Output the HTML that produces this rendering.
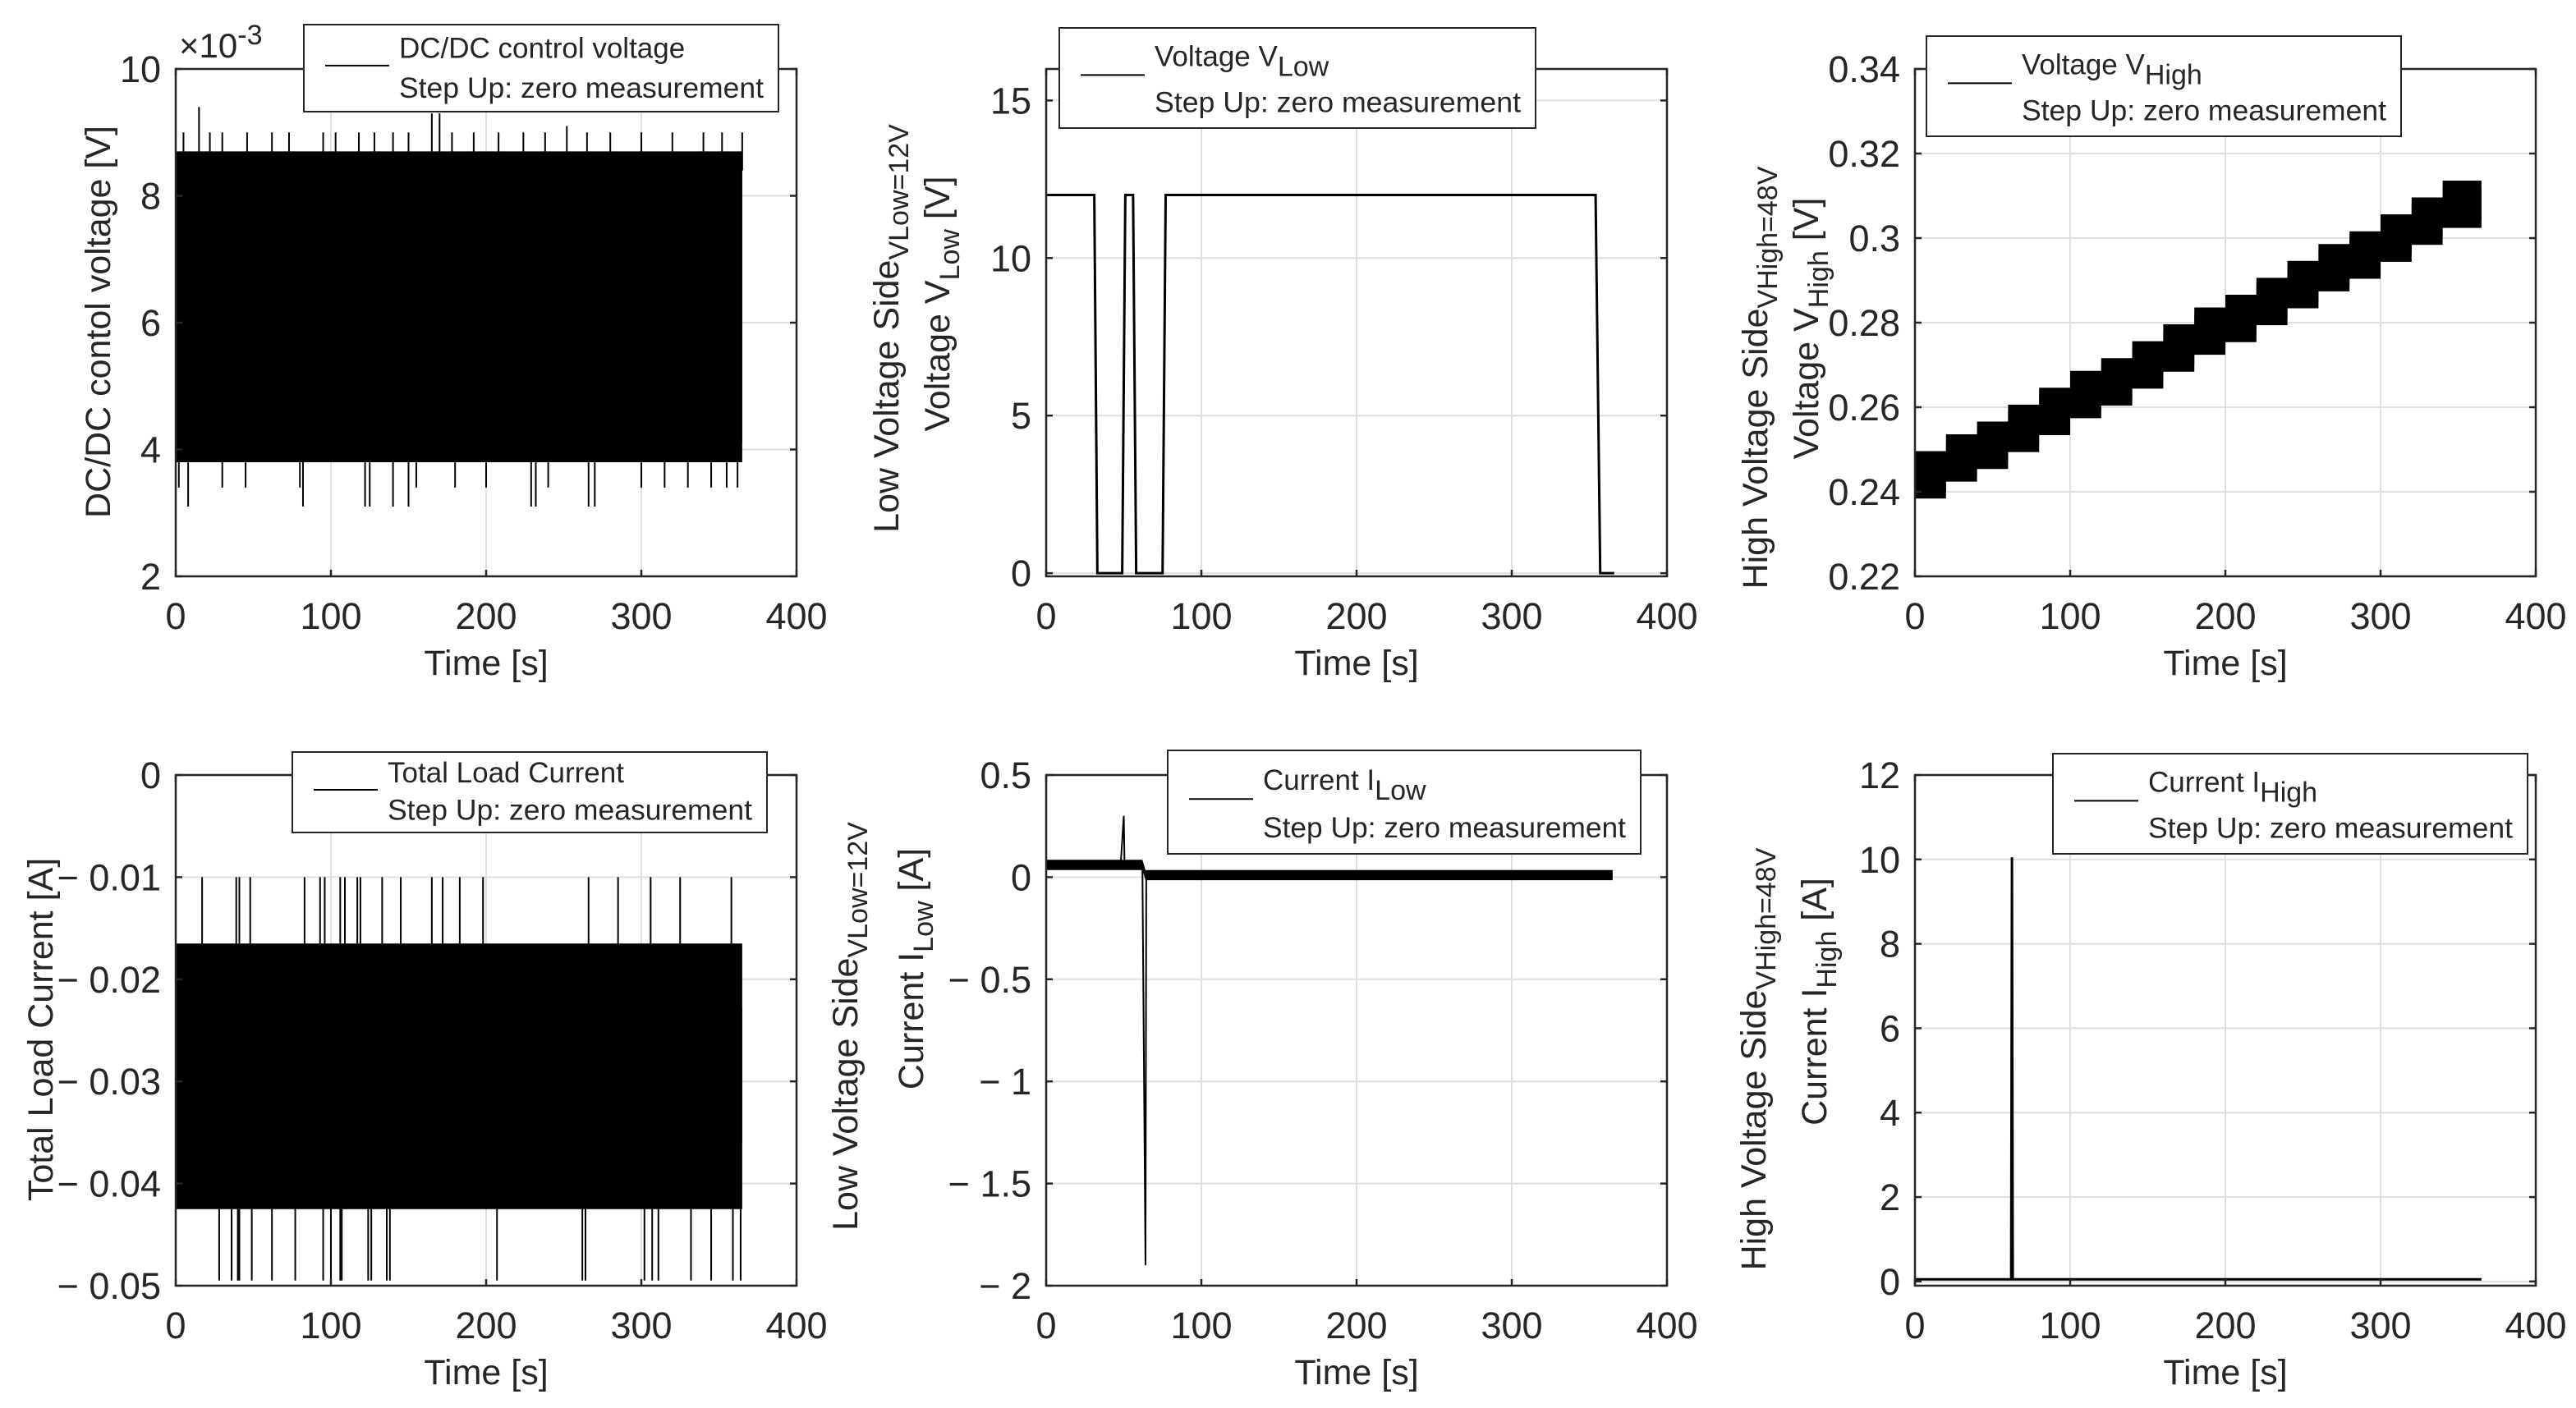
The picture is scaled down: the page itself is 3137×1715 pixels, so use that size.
<!DOCTYPE html>
<html><head><meta charset="utf-8"><style>
html,body{margin:0;padding:0;background:#fff;}
svg{display:block;}
text{font-family:"Liberation Sans",Arial,sans-serif;fill:#262626;}
</style></head><body>
<svg id="fig" width="3137" height="1715" viewBox="0 0 3137 1715" xmlns="http://www.w3.org/2000/svg"></svg>
<script>
// ---------- data ----------
const xTicks = [0,100,200,300,400];
// Panel 1: DC/DC control voltage (x1e-3 V)
const p1Times = [0,50,100,150,200,250,300,365];
const p1CoreHigh = [8.4,8.4,8.4,8.4,8.4,8.4,8.4,8.4];
const p1CoreLow = [3.8,3.8,3.8,3.8,3.8,3.8,3.8,3.8];
const p1OuterHigh = [8.7,8.7,8.7,8.7,8.7,8.7,8.7,8.7];
const p1OuterLow = [4.1,4.1,4.1,4.1,4.1,4.1,4.1,4.1];
const p1SpikeUpT = [5,15,22,30,46,62,73,95,103,118,128,140,150,165,170,178,192,208,224,238,252,265,280,300,320,340,352,365];
const p1SpikeUpV = [9.0,9.4,9.0,9.0,9.0,9.0,9.0,9.0,9.0,9.0,9.0,9.0,9.0,9.3,9.3,9.0,9.0,9.0,9.0,9.0,9.1,9.0,9.0,9.0,9.0,9.0,9.0,9.0];
const p1SpikeDnT = [2,8,30,45,80,82,122,125,140,150,155,180,200,229,232,240,266,270,300,315,330,345,355,362];
const p1SpikeDnV = [3.4,3.1,3.4,3.4,3.4,3.1,3.1,3.1,3.1,3.1,3.4,3.4,3.4,3.1,3.1,3.4,3.1,3.1,3.4,3.4,3.4,3.4,3.4,3.4];
// Panel 2: Voltage V_Low
const p2Times = [0,31,33,49,51,56,58,75,77,354,357,366];
const p2Values = [12,12,0,0,12,12,0,0,12,12,0,0];
// Panel 3: Voltage V_High (step centers)
const p3Times = [0,20,40,60,80,100,120,140,160,180,200,220,240,260,280,300,320,340,365];
const p3Center = [0.244,0.248,0.251,0.255,0.259,0.263,0.266,0.270,0.274,0.278,0.281,0.285,0.289,0.293,0.296,0.300,0.304,0.308,0.311];
const p3Half = 0.004;
const p3Outer = 0.007;
// Panel 4: Total load current
const p4Times = [0,100,200,300,365];
const p4CoreHigh = [-0.0227,-0.0227,-0.0227,-0.0227,-0.0227];
const p4CoreLow = [-0.036,-0.036,-0.036,-0.036,-0.036];
const p4OuterHigh = [-0.0165,-0.0165,-0.0165,-0.0165,-0.0165];
const p4OuterLow = [-0.0425,-0.0425,-0.0425,-0.0425,-0.0425];
const p4SpikeUpT = [17,39,41,48,83,93,96,106,109,117,119,133,145,165,172,183,198,266,285,306,325,358];
const p4SpikeDnT = [28,36,40,41,49,62,77,95,100,106,107,124,126,136,138,207,262,264,302,307,311,332,345,359,364];
// Panel 5: Current I_Low
const p5Times = [0,48,50,50.5,52,62,64,64.5,66,365];
const p5Values = [0.06,0.06,0.3,0.06,0.06,0.06,-1.9,0.0,0.01,0.01];
const p5NoiseT = [0,62,64,365];
const p5NoiseHigh = [0.085,0.085,0.035,0.035];
const p5NoiseLow = [0.035,0.035,-0.015,-0.015];
// Panel 6: Current I_High
const p6Times = [0,62,62.5,63,365];
const p6Values = [0.05,0.05,10.05,0.05,0.05];

// ---------- drawing ----------
const NS = "http://www.w3.org/2000/svg";
const svg = document.getElementById('fig');
function mk(tag, attrs, parent){
  const e = document.createElementNS(NS, tag);
  for (const k in attrs) e.setAttribute(k, attrs[k]);
  (parent||svg).appendChild(e);
  return e;
}
function panel(cfg){
  const g = mk('g', {});
  
  
  const sx = v => cfg.x0 + (v - 0) / 400 * (cfg.x1 - cfg.x0);
  const sy = v => cfg.y1 - (v - cfg.ymin) / (cfg.ymax - cfg.ymin) * (cfg.y1 - cfg.y0);
  xTicks.forEach(t => {
    const l = mk('line', {x1:sx(t),x2:sx(t),y1:cfg.y0,y2:cfg.y1,stroke:'#dfdfdf','stroke-width':2}, g);
    
    
  });
  cfg.yTicks.forEach(t => {
    const l = mk('line', {x1:cfg.x0,x2:cfg.x1,y1:sy(t),y2:sy(t),stroke:'#dfdfdf','stroke-width':2}, g);
    
    
  });
  const data = mk('g', {}, g);
  
  
  cfg.draw(data, sx, sy);
  const box = mk('rect', {x:cfg.x0,y:cfg.y0,width:cfg.x1-cfg.x0,height:cfg.y1-cfg.y0,fill:'none',stroke:'#262626','stroke-width':2.5}, g);
  
  
  xTicks.forEach(t => {
    mk('line', {x1:sx(t),x2:sx(t),y1:cfg.y1,y2:cfg.y1-8,stroke:'#262626','stroke-width':2.5}, g);
    mk('line', {x1:sx(t),x2:sx(t),y1:cfg.y0,y2:cfg.y0+8,stroke:'#262626','stroke-width':2.5}, g);
    const tx = mk('text', {x:sx(t),y:cfg.y1+64,'font-size':45,'text-anchor':'middle'}, g);
    tx.textContent = t;
    
    
  });
  cfg.yTicks.forEach((t,i) => {
    mk('line', {x1:cfg.x0,x2:cfg.x0+8,y1:sy(t),y2:sy(t),stroke:'#262626','stroke-width':2.5}, g);
    mk('line', {x1:cfg.x1,x2:cfg.x1-8,y1:sy(t),y2:sy(t),stroke:'#262626','stroke-width':2.5}, g);
    const tx = mk('text', {x:cfg.x0-18,y:sy(t)+16,'font-size':45,'text-anchor':'end'}, g);
    tx.textContent = cfg.yLabels[i];
    
    
  });
  const xl = mk('text', {x:(cfg.x0+cfg.x1)/2,y:cfg.y1+120,'font-size':43,'text-anchor':'middle'}, g);
  xl.textContent = 'Time [s]';
  
  
  return {g, sx, sy};
}
function band(parent, times, hi, lo, sx, sy, name){
  let d = 'M' + times.map((t,i)=>sx(t)+','+sy(hi[i])).join(' L');
  d += ' L' + times.slice().reverse().map((t,i)=>sx(t)+','+sy(lo[times.length-1-i])).join(' L') + ' Z';
  const p = mk('path', {d, fill:'#000'}, parent);
  
  
}
function spikes(parent, ts, vs, base, sx, sy, name){
  ts.forEach((t,i) => {
    const l = mk('line', {x1:sx(t),x2:sx(t),y1:sy(base),y2:sy(vs[i]),stroke:'#000','stroke-width':2}, parent);
    
    
  });
}
function polyline(parent, ts, vs, sx, sy, name, w){
  const p = mk('polyline', {points: ts.map((t,i)=>sx(t)+','+sy(vs[i])).join(' '), fill:'none', stroke:'#000','stroke-width':w||2}, parent);
  
  
}
function legend(x, y, w, h, main, sub){
  const g = mk('g', {});
  
  
  mk('rect', {x, y, width:w, height:h, fill:'#fff', stroke:'#262626','stroke-width':2}, g);
  mk('line', {x1:x+26,x2:x+104,y1:y+h*0.47,y2:y+h*0.47,stroke:'#000','stroke-width':2}, g);
  const t1 = mk('text', {x:x+116,y:y+h*0.38,'font-size':35,fill:'#000'}, g);
  t1.innerHTML = main;
  
  
  const t2 = mk('text', {x:x+116,y:y+h*0.84,'font-size':35,fill:'#000',textLength:w-134,lengthAdjust:'spacingAndGlyphs'}, g);
  t2.textContent = sub;
  
  
}
function ylabel(cx, cy, html, name){
  const t = mk('text', {x:cx, y:cy, 'font-size':43, 'text-anchor':'middle', transform:`rotate(-90 ${cx} ${cy})`});
  t.innerHTML = html;
  
  
}
const SUB = (s) => `<tspan dy="12" font-size="34">${s}</tspan><tspan dy="-12"> </tspan>`;
const C = [[214,970],[1274,2030],[2332,3088]];
const R = [[84,702],[944,1566]];

// Panel 1
panel({name:'dcdc-control-voltage-plot',x0:C[0][0],x1:C[0][1],y0:R[0][0],y1:R[0][1],ymin:2,ymax:10,
  yTicks:[2,4,6,8,10],yLabels:['2','4','6','8','10'],
  draw:(g,sx,sy)=>{
    spikes(g,p1SpikeUpT,p1SpikeUpV,8.4,sx,sy,'spike-up');
    spikes(g,p1SpikeDnT,p1SpikeDnV,3.8,sx,sy,'spike-down');
    band(g,p1Times,p1OuterHigh,p1OuterLow,sx,sy,'outer-band');
    band(g,p1Times,p1CoreHigh,p1CoreLow,sx,sy,'core-band');
  }});
const ex = mk('text',{x:218,y:70,'font-size':42});
ex.innerHTML = '×10<tspan dy="-16" font-size="34">-3</tspan>';


legend(370,30,578,106,'DC/DC control voltage','Step Up: zero measurement');
ylabel(134,392,'DC/DC contol voltage [V]','y-axis-title');

// Panel 2
panel({name:'voltage-vlow-plot',x0:C[1][0],x1:C[1][1],y0:R[0][0],y1:R[0][1],ymin:-0.1,ymax:16,
  yTicks:[0,5,10,15],yLabels:['0','5','10','15'],
  draw:(g,sx,sy)=>{ polyline(g,p2Times,p2Values,sx,sy,'vlow-line',3); }});
legend(1290,34,580,122,'Voltage V'+SUB('Low'),'Step Up: zero measurement');
ylabel(1094,400,'Low Voltage Side'+SUB('VLow=12V'),'y-axis-title-line1');
ylabel(1156,370,'Voltage V'+SUB('Low')+'[V]','y-axis-title-line2');

// Panel 3
panel({name:'voltage-vhigh-plot',x0:C[2][0],x1:C[2][1],y0:R[0][0],y1:R[0][1],ymin:0.22,ymax:0.34,
  yTicks:[0.22,0.24,0.26,0.28,0.30,0.32,0.34],yLabels:['0.22','0.24','0.26','0.28','0.3','0.32','0.34'],
  draw:(g,sx,sy)=>{
    const ts=[],hi=[],lo=[],ohi=[],olo=[];
    p3Times.forEach((t,i)=>{
      const tn = i<p3Times.length-1 ? p3Times[i+1] : t;
      ts.push(t,tn); hi.push(p3Center[i]+p3Half,p3Center[i]+p3Half); lo.push(p3Center[i]-p3Half,p3Center[i]-p3Half);
      ohi.push(p3Center[i]+p3Outer*0.8,p3Center[i]+p3Outer*0.8); olo.push(p3Center[i]-p3Outer*0.8,p3Center[i]-p3Outer*0.8);
    });
    band(g,ts,ohi,olo,sx,sy,'vhigh-outer-band');
    band(g,ts,hi,lo,sx,sy,'vhigh-core-band');
  }});
legend(2346,44,578,122,'Voltage V'+SUB('High'),'Step Up: zero measurement');
ylabel(2152,460,'High Voltage Side'+SUB('VHigh=48V'),'y-axis-title-line1');
ylabel(2214,400,'Voltage V'+SUB('High')+'[V]','y-axis-title-line2');

// Panel 4
panel({name:'total-load-current-plot',x0:C[0][0],x1:C[0][1],y0:R[1][0],y1:R[1][1],ymin:-0.05,ymax:0,
  yTicks:[-0.05,-0.04,-0.03,-0.02,-0.01,0],yLabels:['\u2212 0.05','\u2212 0.04','\u2212 0.03','\u2212 0.02','\u2212 0.01','0'],
  draw:(g,sx,sy)=>{
    spikes(g,p4SpikeUpT,p4SpikeUpT.map(()=>-0.01),-0.0165,sx,sy,'spike-up');
    spikes(g,p4SpikeDnT,p4SpikeDnT.map(()=>-0.0495),-0.0425,sx,sy,'spike-down');
    band(g,p4Times,p4OuterHigh,p4OuterLow,sx,sy,'outer-band');
    band(g,p4Times,p4CoreHigh,p4CoreLow,sx,sy,'core-band');
  }});
legend(356,916,578,98,'Total Load Current','Step Up: zero measurement');
ylabel(64,1254,'Total Load Current [A]','y-axis-title');

// Panel 5
panel({name:'current-ilow-plot',x0:C[1][0],x1:C[1][1],y0:R[1][0],y1:R[1][1],ymin:-2,ymax:0.5,
  yTicks:[-2,-1.5,-1,-0.5,0,0.5],yLabels:['\u2212 2','\u2212 1.5','\u2212 1','\u2212 0.5','0','0.5'],
  draw:(g,sx,sy)=>{
    band(g,p5NoiseT,p5NoiseHigh,p5NoiseLow,sx,sy,'ilow-noise-band');
    polyline(g,p5Times,p5Values,sx,sy,'ilow-line',2);
  }});
legend(1422,914,576,126,'Current I'+SUB('Low'),'Step Up: zero measurement');
ylabel(1044,1250,'Low Voltage Side'+SUB('VLow=12V'),'y-axis-title-line1');
ylabel(1124,1180,'Current I'+SUB('Low')+'[A]','y-axis-title-line2');

// Panel 6
panel({name:'current-ihigh-plot',x0:C[2][0],x1:C[2][1],y0:R[1][0],y1:R[1][1],ymin:-0.1,ymax:12,
  yTicks:[0,2,4,6,8,10,12],yLabels:['0','2','4','6','8','10','12'],
  draw:(g,sx,sy)=>{ polyline(g,p6Times,p6Values,sx,sy,'ihigh-line',3); }});
legend(2500,918,578,122,'Current I'+SUB('High'),'Step Up: zero measurement');
ylabel(2150,1290,'High Voltage Side'+SUB('VHigh=48V'),'y-axis-title-line1');
ylabel(2224,1220,'Current I'+SUB('High')+'[A]','y-axis-title-line2');
</script>
</body></html>
